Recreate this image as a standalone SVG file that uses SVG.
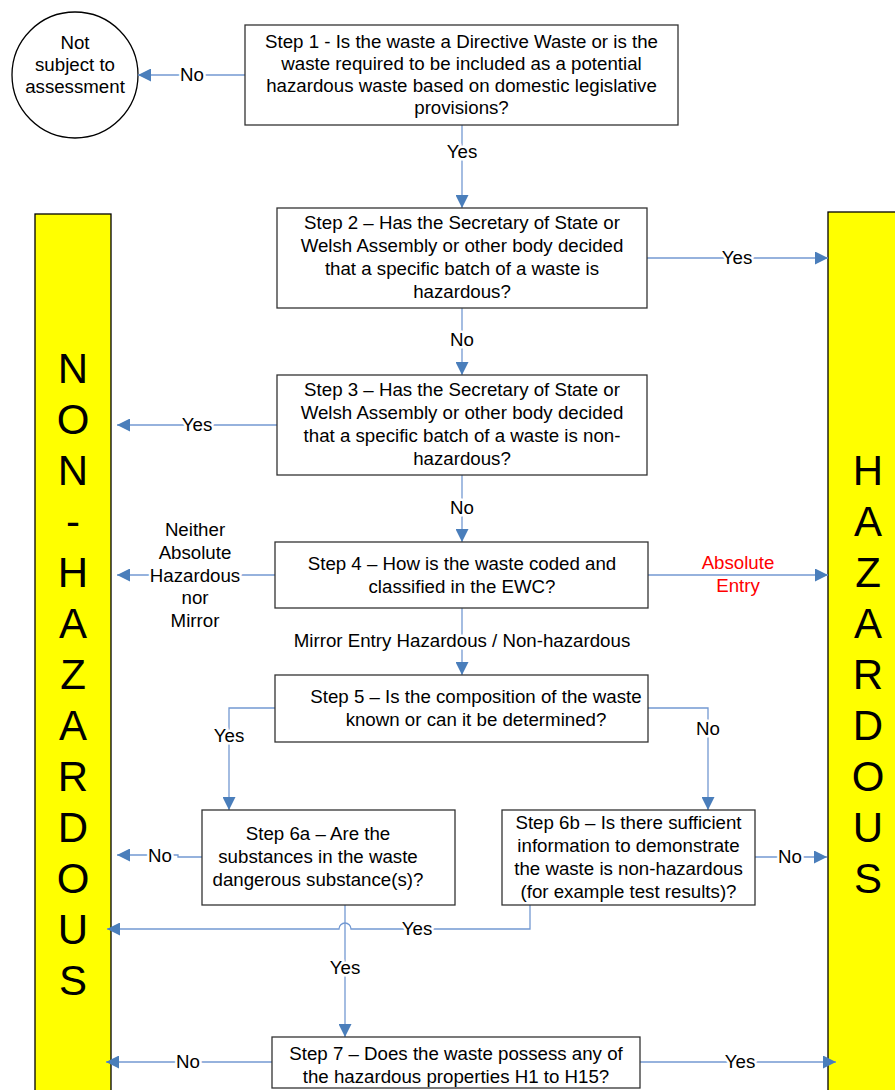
<svg xmlns="http://www.w3.org/2000/svg" width="895" height="1090" viewBox="0 0 895 1090">
<style>
.box{fill:#fff;stroke:#333;stroke-width:1.3}
.bar{fill:#ffff00;stroke:#000;stroke-width:1.3}
.t{font-family:"Liberation Sans",Arial,sans-serif;font-size:18.7px;fill:#000;text-anchor:middle}
.big{font-family:"Liberation Sans",Arial,sans-serif;font-size:42px;fill:#000;text-anchor:middle}
.lbl{font-family:"Liberation Sans",Arial,sans-serif;font-size:18.7px;fill:#000;text-anchor:middle;stroke:#fff;stroke-width:5;paint-order:stroke;stroke-linejoin:round}
.red{fill:#ff0000}
.c{fill:none;stroke:#7399d2;stroke-width:1.3}
</style>
<defs>
<marker id="ah" markerUnits="userSpaceOnUse" markerWidth="14" markerHeight="13" refX="13" refY="6.5" orient="auto">
<path d="M0,0 L13,6.5 L0,13 z" fill="#4a7ebb"/>
</marker>
</defs>

<g id="not-subject">
<circle cx="75" cy="75" r="63" fill="#fff" stroke="#000" stroke-width="1.3"/>
<text class="t" x="75" y="49">Not</text>
<text class="t" x="75" y="71">subject to</text>
<text class="t" x="75" y="93">assessment</text>
</g>

<g id="non-hazardous">
<rect class="bar" x="35" y="214" width="76" height="890"/>
<text class="big" x="73" y="383">N</text>
<text class="big" x="73" y="434">O</text>
<text class="big" x="73" y="485">N</text>
<text class="big" x="73" y="536">-</text>
<text class="big" x="73" y="587">H</text>
<text class="big" x="73" y="638">A</text>
<text class="big" x="73" y="689">Z</text>
<text class="big" x="73" y="740">A</text>
<text class="big" x="73" y="791">R</text>
<text class="big" x="73" y="842">D</text>
<text class="big" x="73" y="893">O</text>
<text class="big" x="73" y="944">U</text>
<text class="big" x="73" y="995">S</text>
</g>

<g id="hazardous">
<rect class="bar" x="828" y="212" width="80" height="890"/>
<text class="big" x="868" y="485">H</text>
<text class="big" x="868" y="536">A</text>
<text class="big" x="868" y="587">Z</text>
<text class="big" x="868" y="638">A</text>
<text class="big" x="868" y="689">R</text>
<text class="big" x="868" y="740">D</text>
<text class="big" x="868" y="791">O</text>
<text class="big" x="868" y="842">U</text>
<text class="big" x="868" y="893">S</text>
</g>

<g id="connectors">
<path class="c" d="M245,75 H138" marker-end="url(#ah)"/>
<path class="c" d="M462,125 V208" marker-end="url(#ah)"/>
<path class="c" d="M647,258 H828" marker-end="url(#ah)"/>
<path class="c" d="M462,308 V375" marker-end="url(#ah)"/>
<path class="c" d="M277,425 H117" marker-end="url(#ah)"/>
<path class="c" d="M462,475 V542" marker-end="url(#ah)"/>
<path class="c" d="M275,575 H117" marker-end="url(#ah)"/>
<path class="c" d="M648,575 H828" marker-end="url(#ah)"/>
<path class="c" d="M462,608 V675" marker-end="url(#ah)"/>
<path class="c" d="M275,708 H229 V810" marker-end="url(#ah)"/>
<path class="c" d="M648,708 H708 V810" marker-end="url(#ah)"/>
<path class="c" d="M202,857 H178 V855 H117" marker-end="url(#ah)"/>
<path class="c" d="M755,857 H827" marker-end="url(#ah)"/>
<path class="c" d="M530,905 V929 H351 A6,6 0 0 0 339,929 H107" marker-end="url(#ah)"/>
<path class="c" d="M345,905 V1037" marker-end="url(#ah)"/>
<path class="c" d="M272,1062 H106" marker-end="url(#ah)"/>
<path class="c" d="M640,1062 H836" marker-end="url(#ah)"/>
<text class="lbl" x="192" y="81">No</text>
<text class="lbl" x="462" y="158">Yes</text>
<text class="lbl" x="737" y="264">Yes</text>
<text class="lbl" x="462" y="346">No</text>
<text class="lbl" x="197" y="431">Yes</text>
<text class="lbl" x="462" y="514">No</text>
<text class="lbl" x="195" y="536">Neither</text>
<text class="lbl" x="195" y="559">Absolute</text>
<text class="lbl" x="195" y="582">Hazardous</text>
<text class="lbl" x="195" y="604">nor</text>
<text class="lbl" x="195" y="627">Mirror</text>
<text class="lbl red" x="738" y="569">Absolute</text>
<text class="lbl red" x="738" y="592">Entry</text>
<text class="lbl" x="462" y="647">Mirror Entry Hazardous / Non-hazardous</text>
<text class="lbl" x="229" y="742">Yes</text>
<text class="lbl" x="708" y="735">No</text>
<text class="lbl" x="160" y="862">No</text>
<text class="lbl" x="790" y="863">No</text>
<text class="lbl" x="417" y="935">Yes</text>
<text class="lbl" x="345" y="974">Yes</text>
<text class="lbl" x="188" y="1068">No</text>
<text class="lbl" x="740" y="1068">Yes</text>
</g>

<g id="step1">
<rect class="box" x="245" y="25" width="433" height="100"/>
<text class="t" x="461.5" y="48">Step 1 - Is the waste a Directive Waste or is the</text>
<text class="t" x="461.5" y="70">waste required to be included as a potential</text>
<text class="t" x="461.5" y="92">hazardous waste based on domestic legislative</text>
<text class="t" x="461.5" y="114">provisions?</text>
</g>

<g id="step2">
<rect class="box" x="277" y="208" width="370" height="100"/>
<text class="t" x="462" y="229">Step 2 – Has the Secretary of State or</text>
<text class="t" x="462" y="252">Welsh Assembly or other body decided</text>
<text class="t" x="462" y="275">that a specific batch of a waste is</text>
<text class="t" x="462" y="298">hazardous?</text>
</g>

<g id="step3">
<rect class="box" x="277" y="375" width="370" height="100"/>
<text class="t" x="462" y="396">Step 3 – Has the Secretary of State or</text>
<text class="t" x="462" y="419">Welsh Assembly or other body  decided</text>
<text class="t" x="462" y="442">that a specific batch of a waste is non-</text>
<text class="t" x="462" y="465">hazardous?</text>
</g>

<g id="step4">
<rect class="box" x="275" y="542" width="373" height="66"/>
<text class="t" x="462" y="570">Step 4 – How is the waste coded and</text>
<text class="t" x="462" y="593">classified in the EWC?</text>
</g>

<g id="step5">
<rect class="box" x="275" y="675" width="373" height="67"/>
<text class="t" x="476" y="703">Step 5 – Is the composition of the waste</text>
<text class="t" x="476" y="726">known or can it be determined?</text>
</g>

<g id="step6a">
<rect class="box" x="202" y="810" width="253" height="95"/>
<text class="t" x="318" y="840">Step 6a – Are the</text>
<text class="t" x="318" y="863">substances in the waste</text>
<text class="t" x="318" y="886">dangerous substance(s)?</text>
</g>

<g id="step6b">
<rect class="box" x="502" y="810" width="253" height="95"/>
<text class="t" x="628.5" y="829">Step 6b – Is there sufficient</text>
<text class="t" x="628.5" y="852">information to demonstrate</text>
<text class="t" x="628.5" y="875">the waste is non-hazardous</text>
<text class="t" x="628.5" y="898">(for example test results)?</text>
</g>

<g id="step7">
<rect class="box" x="272" y="1037" width="368" height="51"/>
<text class="t" x="456" y="1060">Step 7 – Does the waste possess any of</text>
<text class="t" x="456" y="1083">the hazardous properties H1 to H15?</text>
</g>
</svg>
